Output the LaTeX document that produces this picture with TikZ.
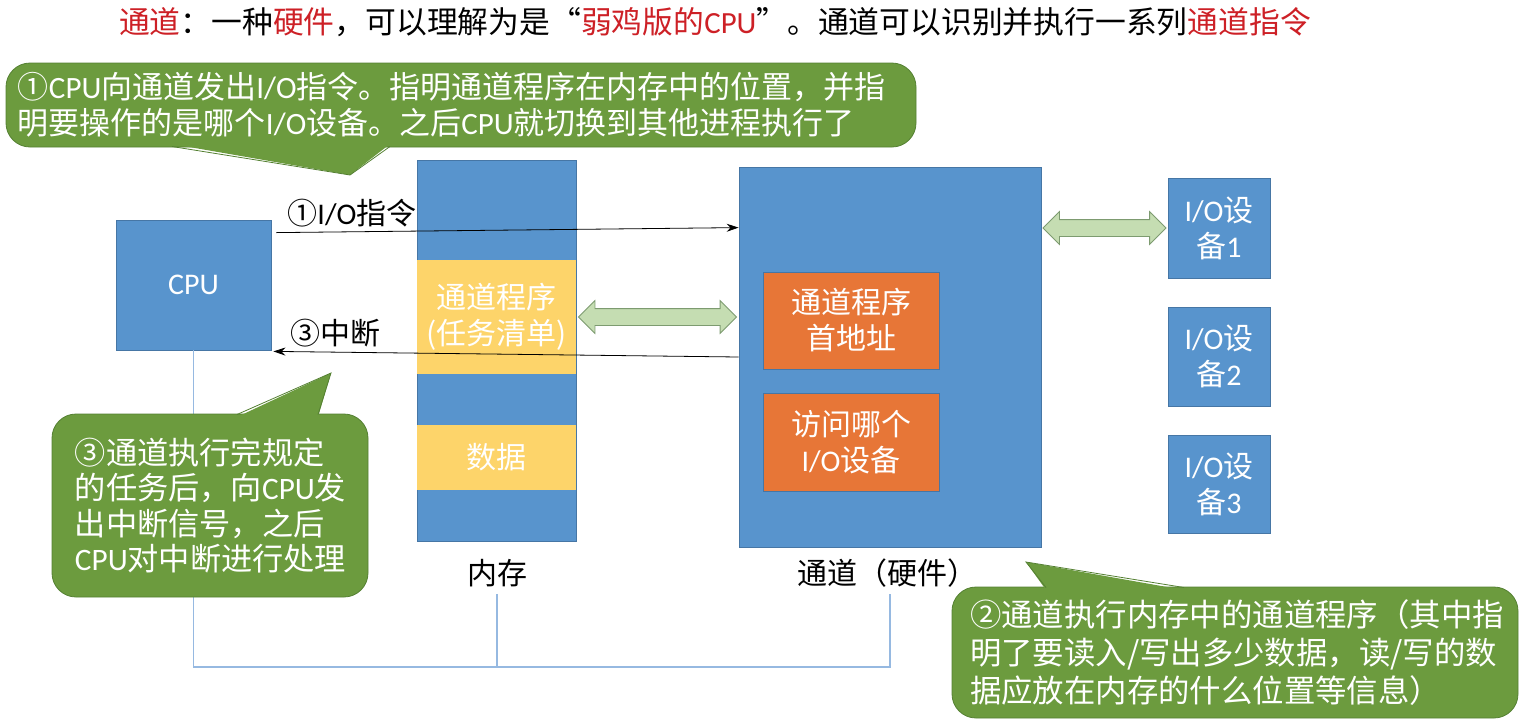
\documentclass[tikz,border=0pt]{standalone}
\usepackage{fontspec}
\setmainfont{Noto Sans CJK SC}
\newfontfamily\latf{Carlito}
\newcommand{\en}[1]{{\latf #1}}
\usetikzlibrary{positioning,calc,shapes.arrows,arrows.meta}
\definecolor{boxblue}{RGB}{88,148,205}
\definecolor{boxline}{RGB}{70,118,165}
\definecolor{progyellow}{RGB}{253,212,106}
\definecolor{regorange}{RGB}{231,118,55}
\definecolor{tipgreen}{RGB}{108,155,62}
\definecolor{tipline}{RGB}{84,128,50}
\definecolor{pipegreen}{RGB}{197,221,178}
\definecolor{pipeline}{RGB}{125,155,112}
\definecolor{busblue}{RGB}{150,185,225}
\definecolor{keyred}{RGB}{205,32,38}
\begin{document}
\begin{tikzpicture}[x=0.5pt,y=-0.5pt]
        \tikzstyle{unit}=[draw=boxline,fill=boxblue,text=white,inner sep=0pt,line width=0.4pt,align=center,font=\fontsize{15}{18}\selectfont];
        \tikzstyle{prog}=[unit,fill=progyellow,draw=none];
        \tikzstyle{reg}=[unit,fill=regorange];
        \tikzstyle{pipe}=[double arrow,draw=pipeline,fill=pipegreen,inner xsep=0pt,inner ysep=4pt,minimum width=16pt,double arrow head extend=4pt];
        \tikzstyle{tip}=[fill=tipgreen,draw=tipline,rounded corners=12pt,text=white,align=left,inner ysep=0pt];
        \tikzstyle{lab}=[font=\fontsize{15}{18}\selectfont];
        \useasboundingbox (0,0) rectangle (1522,724);
        % title
        \node (title) at (715,22) {\fontsize{15.4}{18}\selectfont\textcolor{keyred}{通道}：一种\textcolor{keyred}{硬件}，可以理解为是“\textcolor{keyred}{弱鸡版的\en{CPU}}”。通道可以识别并执行一系列\textcolor{keyred}{通道指令}};
        % bus
        \coordinate (busend) at (890,667);
        \node (cpu) at (193.5,285) [unit,minimum width=77.5pt,minimum height=65pt] {\en{CPU}};
        \node (mem) at (496.5,350.5) [unit,minimum width=79.5pt,minimum height=190.5pt] {};
        \node (prog) at (496.5,317) [prog,minimum width=79.5pt,minimum height=57pt] {通道程序\\(任务清单)};
        \node (data) at (496.5,457.5) [prog,minimum width=79.5pt,minimum height=32.5pt] {数据};
        \node (memlab) at (497,573) [lab] {内存};
        \node (chan) at (890,357) [unit,minimum width=151pt,minimum height=190pt] {};
        \node (addr) at (851,320.5) [reg,minimum width=88pt,minimum height=48.5pt] {通道程序\\首地址};
        \node (dev) at (851,442) [reg,minimum width=88pt,minimum height=49pt] {访问哪个\\\en{I/O}设备};
        \node (chanlab) at (887,573) [lab] {通道（硬件）};
        \node (io1) at (1219,228) [unit,minimum width=51pt,minimum height=50pt] {\en{I/O}设\\备\en{1}};
        \node (io2) at (1219,356.5) [unit,minimum width=51pt,minimum height=49.5pt] {\en{I/O}设\\备\en{2}};
        \node (io3) at (1219,484) [unit,minimum width=51pt,minimum height=49pt] {\en{I/O}设\\备\en{3}};
        \draw[busblue,line width=0.6pt] (cpu.south) |- (busend) -- (chan.south |- chanlab.south);
        \draw[busblue,line width=0.6pt] (memlab.south) -- (memlab.south |- busend);
        % commands and interrupt
        \draw[-{Stealth[length=6pt,width=4pt]}] ([shift={(5,13)}]cpu.north east) -- ([shift={(0,61)}]chan.north west);
        \draw[-{Stealth[length=6pt,width=4pt]}] (chan.west) -- ([shift={(2,1)}]cpu.south east);
        \node (cmd) at (352,213) [lab] {①\en{I/O}指令};
        \node (irq) at (335,333) [lab] {③中断};
        \node (p1) at ($(prog.east)!0.5!(prog.east -| chan.west)$) [pipe,minimum height=79pt] {};
        \node (p2) at ($(io1.west)!0.5!(io1.west -| chan.east)$) [pipe,minimum height=61.5pt] {};
        % callouts
        \node (tip1) at (461,105) [tip,inner xsep=6pt,text width=443pt,minimum height=42pt,font=\fontsize{15.5}{18}\selectfont] {①\en{CPU}向通道发出\en{I/O}指令。指明通道程序在内存中的位置，并指\\明要操作的是哪个\en{I/O}设备。之后\en{CPU}就切换到其他进程执行了};
        \fill[tipgreen] (172,144) -- (350,175) -- (390,144) -- cycle;
        \draw[tipline] (172,146.5) -- (350,175) -- (390,146.5);
        \node (tip3) at (210,505.5) [tip,inner xsep=11.5pt,text width=135pt,minimum height=91.5pt,font=\fontsize{15.6}{17.8}\selectfont] {③通道执行完规定\\的任务后，向\en{CPU}发\\出中断信号，之后\\\en{CPU}对中断进行处理};
        \fill[tipgreen] (237,417) -- (331,373) -- (318,417) -- cycle;
        \draw[tipline] (237,414.5) -- (331,373) -- (318,414.5);
        \node (tip2) at (1235,652.5) [tip,inner xsep=9pt,text width=265pt,minimum height=65.5pt,font=\fontsize{15.7}{19}\selectfont] {②通道执行内存中的通道程序（其中指\\明了要读入/写出多少数据，读/写的数\\据应放在内存的什么位置等信息）};
        \fill[tipgreen] (1046,590) -- (1026,562) -- (1184,590) -- cycle;
        \draw[tipline] (1046,587.5) -- (1026,562) -- (1184,587.5);
\end{tikzpicture}
\end{document}
